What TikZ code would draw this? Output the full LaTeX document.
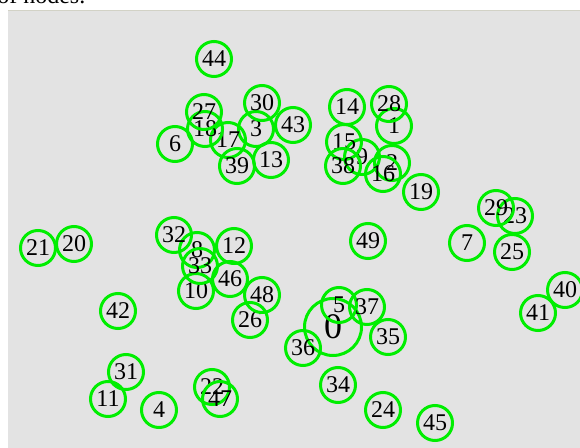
\documentclass[tikz,border=0pt]{standalone}
\usepackage{fontspec}
\setmainfont{Liberation Serif}
\definecolor{bggray}{HTML}{E3E3E3}
\definecolor{topline}{HTML}{D2D2C6}
\definecolor{nodegreen}{HTML}{00EE00}
\begin{document}
\begin{tikzpicture}[x=0.75pt,y=-0.75pt,
  vtx/.style={circle,draw=nodegreen,line width=2.25pt,minimum size=26.25pt,inner sep=0pt,
    font=\fontsize{18}{18}\selectfont,text=black},
  bigvtx/.style={vtx,minimum size=42.75pt,font=\fontsize{27}{27}\selectfont}]
\useasboundingbox (0,0) rectangle (580,448);
\clip (0,0) rectangle (580,448);
\node[anchor=base west,font=\fontsize{18}{18}\selectfont,inner sep=0pt] (caption) at (-3,4) {of nodes.};
\fill[bggray] (8,10) rectangle (580,448);
\draw[topline,line width=0.75pt] (8,10.5) -- (580,10.5);
\node[bigvtx] (n0) at (333,327) {0};
\node[vtx] (n1) at (394,126) {1};
\node[vtx] (n2) at (392,163) {2};
\node[vtx] (n3) at (256,129) {3};
\node[vtx] (n4) at (159,410) {4};
\node[vtx] (n5) at (339,305) {5};
\node[vtx] (n6) at (175,144) {6};
\node[vtx] (n7) at (467,243) {7};
\node[vtx] (n8) at (197,250) {8};
\node[vtx] (n9) at (362,157) {9};
\node[vtx] (n10) at (196,291) {10};
\node[vtx] (n11) at (108,399) {11};
\node[vtx] (n12) at (234,246) {12};
\node[vtx] (n13) at (271,160) {13};
\node[vtx] (n14) at (347,107) {14};
\node[vtx] (n15) at (344,142) {15};
\node[vtx] (n16) at (383,174) {16};
\node[vtx] (n17) at (228,140) {17};
\node[vtx] (n18) at (205,129) {18};
\node[vtx] (n19) at (421,192) {19};
\node[vtx] (n20) at (74,244) {20};
\node[vtx] (n21) at (38,248) {21};
\node[vtx] (n22) at (212,387) {22};
\node[vtx] (n23) at (515,216) {23};
\node[vtx] (n24) at (383,410) {24};
\node[vtx] (n25) at (512,252) {25};
\node[vtx] (n26) at (250,320) {26};
\node[vtx] (n27) at (204,112) {27};
\node[vtx] (n28) at (389,104) {28};
\node[vtx] (n29) at (496,208) {29};
\node[vtx] (n30) at (262,103) {30};
\node[vtx] (n31) at (126,372) {31};
\node[vtx] (n32) at (174,235) {32};
\node[vtx] (n33) at (200,266) {33};
\node[vtx] (n34) at (338,385) {34};
\node[vtx] (n35) at (388,337) {35};
\node[vtx] (n36) at (303,348) {36};
\node[vtx] (n37) at (367,307) {37};
\node[vtx] (n38) at (343,166) {38};
\node[vtx] (n39) at (237,166) {39};
\node[vtx] (n40) at (565,290) {40};
\node[vtx] (n41) at (538,313) {41};
\node[vtx] (n42) at (118,311) {42};
\node[vtx] (n43) at (293,125) {43};
\node[vtx] (n44) at (214,59) {44};
\node[vtx] (n45) at (435,423) {45};
\node[vtx] (n46) at (230,279) {46};
\node[vtx] (n47) at (220,399) {47};
\node[vtx] (n48) at (262,295) {48};
\node[vtx] (n49) at (368,241) {49};
\end{tikzpicture}
\end{document}
